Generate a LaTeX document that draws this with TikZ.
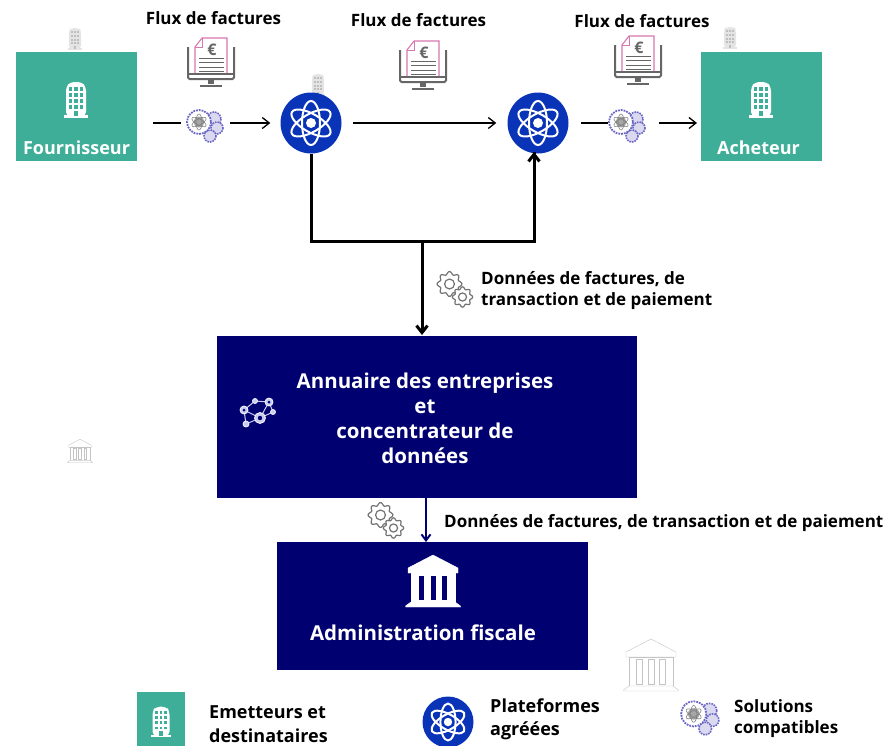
\documentclass[tikz,border=0pt]{standalone}
\usepackage{fontspec}
\setmainfont{Open Sans}
\usetikzlibrary{positioning}
\usetikzlibrary{arrows,arrows.meta}
\definecolor{tealbox}{HTML}{3FAE98}
\definecolor{navybox}{HTML}{000070}
\definecolor{atomblue}{HTML}{0A34B8}
\definecolor{gearblue}{HTML}{6A66C4}
\definecolor{netlight}{HTML}{C8CCF0}
\definecolor{pagepink}{HTML}{D877B0}
\definecolor{screengray}{HTML}{666666}
\definecolor{faintgray}{HTML}{C4C4C4}
\tikzset{
 greenbox/.style={fill=tealbox, minimum width=121pt, minimum height=109pt, inner sep=0pt},
 bluebox/.style={fill=navybox, inner sep=0pt},
 platform/.style={circle, fill=atomblue, inner sep=0pt},
 boxtext/.style={text=white, font=\bfseries\fontsize{18}{22}\selectfont, align=center, inner sep=0pt},
 blacktext/.style={text=black, font=\bfseries\fontsize{17}{21}\selectfont, align=left, inner sep=0pt},
 legendtext/.style={blacktext, font=\bfseries\fontsize{18}{23.5}\selectfont},
 thinline/.style={black, line width=1.3pt},
 thinarrow/.style={thinline, -{Straight Barb[length=7pt,width=11pt]}},
 boldline/.style={black, line width=3pt},
 pics/building/.style 2 args={code={
  \fill[#1, rounded corners=4pt] (-10,16) -- (-10,-13) -- (-6,-18) -- (6,-18) -- (10,-13) -- (10,16) -- cycle;
  \fill[#1] (-12,15) rectangle (12,18);
  \foreach \u in {-5.5,0,5.5}
   \foreach \v in {-11,-5,1,7}
    \fill[#2] (\u-1.7,\v-1.7) rectangle (\u+1.7,\v+1.7);
  \fill[#2] (-2,11) rectangle (2,16);
 }},
 pics/bankicon/.style n args={3}{code={
  \draw[#1, fill=#2, line join=round] (0,-26) -- (25,-13) -- (25,-8) -- (-25,-8) -- (-25,-13) -- cycle;
  \draw[#1, fill=#2] (-22,-8) rectangle (22,21);
  \foreach \u in {-11.5,0,11.5}
   \draw[#1, fill=#3] (\u-3,-6) rectangle (\u+3,19);
  \draw[#1, fill=#2, line join=round] (-22,21) -- (22,21) -- (27.5,25) -- (27.5,26) -- (-27.5,26) -- (-27.5,25) -- cycle;
 }},
 pics/atom/.style={code={
  \foreach \r in {30,90,150}
   \draw[white, line width=#1*2pt, rotate=\r] (0,0) ellipse (#1*22 and #1*9);
  \fill[white] (0,0) circle (#1*5);
 }},
 pics/wheel/.style 2 args={code={
  \draw[#2, line width=1.2pt, fill=white] plot[domain=0:360, samples=97, smooth] (\x:{#1*(1+0.13*cos(8*\x))});
  \draw[#2, line width=1.2pt] (0,0) circle (#1*0.45);
 }},
 pics/cogs/.style={code={
  \pic at (-5.5,-5) {wheel={11}{#1}};
  \pic at (7.5,8) {wheel={9}{#1}};
 }},
 pics/solution/.style={code={
  \draw[gearblue, line width=1.6pt, densely dotted, fill=gearblue!25] (9,-6) circle (7);
  \draw[gearblue, line width=1.6pt, densely dotted, fill=gearblue!25] (12,3) circle (6);
  \draw[gearblue, line width=1.6pt, densely dotted, fill=gearblue!25] (5,11) circle (6);
  \draw[gearblue, line width=1.8pt, densely dotted, fill=white] (-6,-3) circle (12);
  \fill[gray!70] (-6,-3) circle (5.5);
  \foreach \r in {30,90,150}
   \draw[gray, line width=.6pt, rotate around={\r:(-6,-3)}] (-6,-3) ellipse (8 and 3);
 }},
 pics/invoice/.style={code={
  \draw[screengray, line width=2pt, rounded corners=1.5pt] (-23,-15) -- (-23,17) -- (23,17) -- (23,-15);
  \draw[screengray, line width=2pt] (-23,12) -- (23,12);
  \fill[screengray] (-3,17) rectangle (3,22);
  \draw[screengray, line width=2pt] (-11,24) -- (11,24);
  \fill[white] (-16,-16) rectangle (16,11);
  \draw[pagepink, line width=1.1pt] (-16,11) -- (-16,-15) -- (-9,-24) -- (16,-24) -- (16,11);
  \draw[pagepink, line width=.8pt] (-16,-15) -- (-9,-15) -- (-9,-24);
  \node[text=screengray, font=\bfseries\fontsize{16}{16}\selectfont, inner sep=0pt] at (1,-12) {€};
  \foreach \v in {-4,0.5,5,9.5}
   \draw[screengray, line width=1pt] (-12,\v) -- (13,\v);
 }},
 pics/network/.style={code={
  \draw[netlight, line width=1pt] (-13,-2) -- (-2,-11) -- (12,-10) -- (16,0) -- (3,6) -- (-13,-2) (-11,12) -- (3,6) -- (12,-10) (-13,-2) -- (-11,12);
  \foreach \u/\v/\r in {-13/-2/4,-2/-11/2.5,12/-10/4,16/0/2.5,3/6/5.5,-11/12/3}
   \draw[white!85!netlight, line width=.8pt, fill=netlight] (\u,\v) circle (\r);
  \foreach \u/\v/\r in {-13/-2/1.5,12/-10/1.5,3/6/2.2}
   \fill[navybox] (\u,\v) circle (\r);
 }},
}
\begin{document}
\begin{tikzpicture}[x=1pt,y=-1pt]
\useasboundingbox (0,0) rectangle (891,745);
% Green boxes
\node[greenbox] (fournisseur) at (76.5,106.5) {};
\node[greenbox] (acheteur) at (761.5,106.5) {};
\node[boxtext] (fournisseurtext) at (76.5,148) {Fournisseur};
\node[boxtext] (acheteurtext) at (758.5,148) {Acheteur};
\pic at (76,100) {building={white}{tealbox}};
\pic at (761,100) {building={white}{tealbox}};
% Faint icons
\pic[scale=.62] at (75,39) {building={faintgray!45}{faintgray!110}};
\pic[scale=.62] at (318,85) {building={faintgray!45}{faintgray!110}};
\pic[scale=.62] at (730,38) {building={faintgray!45}{faintgray!110}};
\pic[scale=.45] at (80,451) {bankicon={faintgray}{white}{white}};
\pic at (651,665) {bankicon={faintgray}{white}{white}};
% Platforms
\node[platform, minimum size=61pt] (pfa) at (311,123) {};
\node[platform, minimum size=61pt] (pfb) at (538,123) {};
\pic at (311,123) {atom=1};
\pic at (538,123) {atom=1};
% Flux
\node[blacktext] (fluxa) at (213.5,18) {Flux de factures};
\node[blacktext] (fluxb) at (418.5,20) {Flux de factures};
\node[blacktext] (fluxc) at (642,21) {Flux de factures};
\pic at (211,62) {invoice};
\pic at (423,65) {invoice};
\pic at (638,60) {invoice};
% Solutions
\coordinate (solaleft) at (153,123);
\coordinate (solaright) at (181,123);
\coordinate (solbleft) at (581,123);
\coordinate (solbright) at (608,123);
\pic at (205,125) {solution};
\pic at (627,125) {solution};
\draw[thinline] (solaleft) -- (solaright);
\coordinate (solaout) at (230,123);
\draw[thinarrow, shorten >=10pt] (solaout) -- (pfa.west);
\draw[thinarrow, shorten <=11pt, shorten >=11pt] (pfa) -- (pfb);
\draw[thinline] (solbleft) -- (solbright);
\coordinate (solbout) at (659,123);
\coordinate (acheteurin) at (697,123);
\draw[thinarrow] (solbout) -- (acheteurin);
% Central boxes
\node[bluebox, minimum width=420pt, minimum height=162pt] (annuaire) at (427,417) {};
\node[bluebox, minimum width=311pt, minimum height=128pt] (admin) at (432.5,606) {};
\node[boxtext, font=\bfseries\fontsize{20.5}{25}\selectfont] (annuairetext) at (425,418.5) {Annuaire des entreprises\\et\\concentrateur de\\données};
\node[boxtext, font=\bfseries\fontsize{20.5}{25}\selectfont] (admintext) at (423,632.5) {Administration fiscale};
\pic at (433,581) {bankicon={white}{white}{navybox}};
\pic at (257,412) {network};
% Bold connectors
\coordinate (jct) at (422,241);
\coordinate (pfbin) at (534,152);
\coordinate (annuairein) at (422,335);
\draw[boldline] (pfa.south) |- (jct) -| (pfbin);
\draw[boldline, -{Straight Barb[length=7pt,width=11pt]}] (pfb.south -| pfbin) ++(0,8) -- (pfbin);
\draw[boldline, -{Straight Barb[length=7pt,width=11pt]}] (jct) -- (annuairein);
\coordinate (adminout) at (426,498);
\coordinate (adminin) at (426,542);
\draw[navybox, line width=2pt, -{Straight Barb[length=6pt,width=9pt]}] (adminout) -- (adminin);
% Data labels
\pic at (455,289) {cogs=gray!90!black};
\pic at (386,520) {cogs=gray!90!black};
\node[blacktext, anchor=west] (donneesa) at (481,291) {Données de factures, de\\transaction et de paiement};
\node[blacktext, anchor=west] (donneesb) at (444,523) {Données de factures, de transaction et de paiement};
% Legend
\node[fill=tealbox, minimum width=48pt, minimum height=60pt, inner sep=0pt] (legendbox) at (161,722) {};
\pic[scale=.85] at (161,722) {building={white}{tealbox}};
\node[platform, minimum size=51pt] (legendpf) at (448,722) {};
\pic[scale=.84] at (448,722) {atom=1};
\pic[scale=1.05] at (700,717) {solution};
\node[legendtext, anchor=west] (legendtexta) at (209,724) {Emetteurs et\\destinataires};
\node[legendtext, anchor=west] (legendtextb) at (490,719.5) {Plateformes\\agréées};
\node[blacktext, anchor=west] (legendtextc) at (734,719) {Solutions\\compatibles};
\end{tikzpicture}
\end{document}
